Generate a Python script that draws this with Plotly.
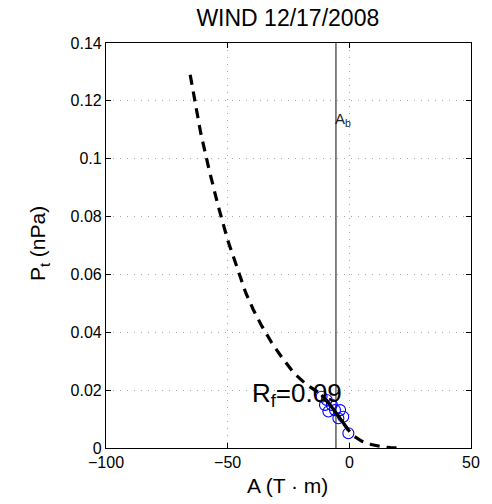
import plotly.graph_objects as go

# ---- data ----
title_text = "WIND 12/17/2008"
x_ticks = [-100, -50, 0, 50]
x_ticktext = ["\u2212100", "\u221250", "0", "50"]
y_ticks = [0, 0.02, 0.04, 0.06, 0.08, 0.1, 0.12, 0.14]
y_ticktext = ["0", "0.02", "0.04", "0.06", "0.08", "0.1", "0.12", "0.14"]

# measured (A, Pt) samples
obs_A = [-11.4, -10.0, -9.3, -8.6, -7.2, -5.9, -3.8, -4.5, -2.5, -0.4]
obs_P = [0.0177, 0.0149, 0.0166, 0.0126, 0.0149, 0.0131, 0.0131, 0.0103, 0.0108, 0.0051]

# fitted Pt(A) curve
fit_A = [-65.4, -63.8, -61.1, -57.8, -54.1, -50.0, -47.7, -44.9, -42.5, -39.5,
         -36.0, -31.9, -27.8, -22.7, -17.4, -12.0, -11.4, -8.0, -4.0, -0.4,
         2.0, 5.0, 9.0, 13.0, 17.0, 22.0]
fit_P = [0.1290, 0.1214, 0.1090, 0.0968, 0.0843, 0.0719, 0.0661, 0.0598, 0.0535, 0.0479,
         0.0422, 0.0364, 0.0314, 0.0258, 0.0218, 0.0188, 0.0183, 0.0150, 0.0105, 0.0062,
         0.0040, 0.0024, 0.0012, 0.0005, 0.0001, 0.0]

A_b = -5.5
A_b_label_pos = (-2.6, 0.1137)
Rf_value = 0.09
Rf_label_pos = (-40.8, 0.0185)

x_range = [-100, 50]
y_range = [0, 0.14]

# solid part of the fit covers the measured A-range
amin, amax = min(obs_A), max(obs_A)
solid_A = [a for a in fit_A if amin <= a <= amax]
solid_P = [p for a, p in zip(fit_A, fit_P) if amin <= a <= amax]

FONT = "Liberation Sans, Arial, Helvetica, sans-serif"

fig = go.Figure()

fig.add_trace(go.Scatter(
    x=[A_b, A_b], y=y_range, mode="lines",
    line=dict(color="#333333", width=1.2), hoverinfo="skip", showlegend=False))

fig.add_trace(go.Scatter(
    x=fit_A, y=fit_P, mode="lines",
    line=dict(color="black", width=3.2, dash="10px,7px"), showlegend=False))

fig.add_trace(go.Scatter(
    x=obs_A, y=obs_P, mode="markers",
    marker=dict(symbol="circle-open", size=11, color="#0000ff", line=dict(width=1.1, color="#0000ff")),
    showlegend=False))

fig.add_trace(go.Scatter(
    x=solid_A, y=solid_P, mode="lines",
    line=dict(color="black", width=3.2), showlegend=False))

fig.add_annotation(x=A_b_label_pos[0], y=A_b_label_pos[1], xref="x", yref="y",
                   text="A<sub>b</sub>", showarrow=False, xanchor="center", yanchor="middle",
                   font=dict(family=FONT, size=15, color="#222222"))

fig.add_annotation(x=Rf_label_pos[0], y=Rf_label_pos[1], xref="x", yref="y",
                   text="R<sub>f</sub>=%.2f" % Rf_value, showarrow=False,
                   xanchor="left", yanchor="middle",
                   font=dict(family=FONT, size=26, color="black"))

# axis titles
fig.add_annotation(x=0.4986, y=-0.093, xref="paper", yref="paper",
                   text="A (T \u00b7 m)", showarrow=False, xanchor="center", yanchor="middle",
                   font=dict(family=FONT, size=21, color="black"))
fig.add_annotation(x=-0.183, y=0.504, xref="paper", yref="paper",
                   text="P<sub>t</sub> (nPa)", showarrow=False, textangle=-90,
                   xanchor="center", yanchor="middle",
                   font=dict(family=FONT, size=21, color="black"))

axis_common = dict(
    showline=True, linecolor="black", linewidth=1.2, mirror="ticks",
    ticks="inside", ticklen=5, tickwidth=1, tickcolor="black",
    showgrid=True, gridcolor="#a8a8a8", gridwidth=1, griddash="1px,6px",
    zeroline=False, tickfont=dict(family=FONT, size=16, color="black"),
    automargin=False,
)

fig.update_xaxes(range=x_range, tickvals=x_ticks, ticktext=x_ticktext, **axis_common)
fig.update_yaxes(range=y_range, tickvals=y_ticks, ticktext=y_ticktext, **axis_common)

fig.update_layout(
    width=492, height=504,
    margin=dict(l=106, r=21, t=43, b=56, autoexpand=False),
    paper_bgcolor="white", plot_bgcolor="white",
    title=dict(text=title_text, x=0.585, xanchor="center", y=1 - 18 / 504, yanchor="middle",
               xref="container", yref="container",
               font=dict(family=FONT, size=23, color="black")),
)

fig.write_html("out.html", config={"displayModeBar": False},
               post_script="document.body.style.margin='0';document.body.style.overflow='hidden';")
